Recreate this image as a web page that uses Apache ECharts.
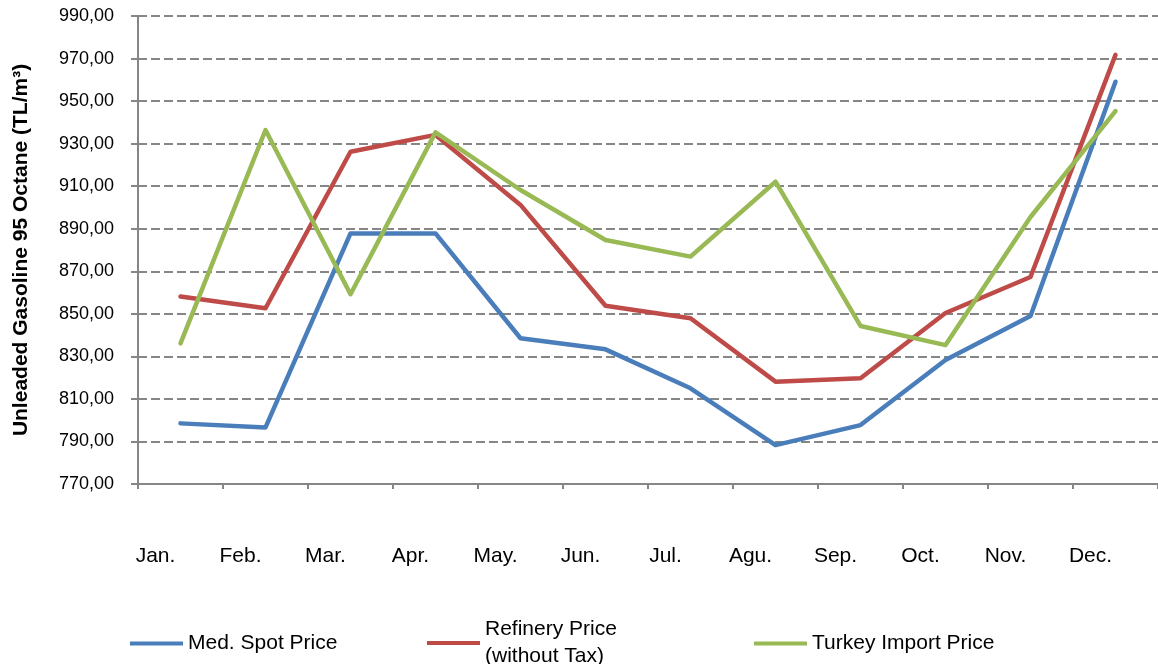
<!DOCTYPE html>
<html>
<head>
<meta charset="utf-8">
<script src="https://cdn.jsdelivr.net/npm/echarts@6/dist/echarts.min.js"></script>
<style>
  html, body { margin: 0; padding: 0; background: #fff; }
  #chart { width: 1158px; height: 664px; }
</style>
</head>
<body>
<div id="chart"></div>
<script>
var months = ['Jan.', 'Feb.', 'Mar.', 'Apr.', 'May.', 'Jun.', 'Jul.', 'Agu.', 'Sep.', 'Oct.', 'Nov.', 'Dec.'];
var medSpot = [798.5, 796.6, 887.8, 887.8, 838.5, 833.3, 815.0, 788.3, 797.7, 828.3, 849.0, 959.1];
var refinery = [858.1, 852.6, 926.2, 934.1, 901.2, 853.8, 847.9, 818.1, 819.7, 850.4, 867.3, 971.7];
var turkeyImport = [836.1, 936.4, 859.2, 935.3, 908.2, 884.7, 876.9, 912.1, 844.3, 835.3, 895.5, 945.3];
var seriesNames = ['Med. Spot Price', 'Refinery Price (without Tax)', 'Turkey Import Price'];
var yMin = 770, yMax = 990, yStep = 20;
var yTitle = 'Unleaded Gasoline 95 Octane (TL/m³)';

var chart = echarts.init(document.getElementById('chart'), null, { renderer: 'canvas' });
var FONT = 'Liberation Sans';
var gray = '#868686';

function legendFor(name, left, top) {
  return {
    data: [name],
    left: left,
    top: top,
    padding: 0,
    icon: 'rect',
    itemWidth: 53,
    itemHeight: 4,
    selectedMode: false,
    formatter: function (n) {
      return n === 'Refinery Price (without Tax)' ? 'Refinery Price\n(without Tax)' : n;
    },
    textStyle: { fontFamily: FONT, fontSize: 21, color: '#000', lineHeight: 27 }
  };
}

function lineSeries(name, data, color) {
  return {
    name: name,
    type: 'line',
    data: data,
    showSymbol: false,
    symbol: 'none',
    color: color,
    lineStyle: { width: 4.5, color: color, cap: 'round', join: 'round' },
    animation: false
  };
}

chart.setOption({
  backgroundColor: '#fff',
  animation: false,
  grid: { left: 138, right: 0, top: 16, bottom: 180, containLabel: false },
  legend: [
    legendFor(seriesNames[0], 130, 630),
    legendFor(seriesNames[1], 427, 616),
    legendFor(seriesNames[2], 754, 630)
  ],
  xAxis: {
    type: 'category',
    data: months,
    boundaryGap: true,
    axisLine: { lineStyle: { color: gray, width: 2 } },
    axisTick: { show: true, length: 5, lineStyle: { color: gray, width: 2 } },
    axisLabel: {
      fontFamily: FONT, fontSize: 21, color: '#000', margin: 62,
      padding: [0, 50, 0, 0]
    },
    splitLine: { show: false }
  },
  yAxis: {
    type: 'value',
    min: yMin, max: yMax, interval: yStep,
    name: yTitle,
    nameLocation: 'middle',
    nameRotate: 90,
    nameGap: 106,
    nameTextStyle: { fontFamily: FONT, fontSize: 21, fontWeight: 'bold', color: '#000' },
    axisLine: { show: true, lineStyle: { color: gray, width: 2 } },
    axisTick: { show: true, length: 7, lineStyle: { color: gray, width: 2 } },
    axisLabel: {
      fontFamily: FONT, fontSize: 18, color: '#000', margin: 24,
      formatter: function (v) { return v.toFixed(2).replace('.', ','); }
    },
    splitLine: { show: true, lineStyle: { color: gray, width: 2, type: [9, 4] } }
  },
  series: [
    lineSeries(seriesNames[0], medSpot, '#4a7ebb'),
    lineSeries(seriesNames[1], refinery, '#be4b48'),
    lineSeries(seriesNames[2], turkeyImport, '#98b954')
  ]
});
</script>
</body>
</html>
